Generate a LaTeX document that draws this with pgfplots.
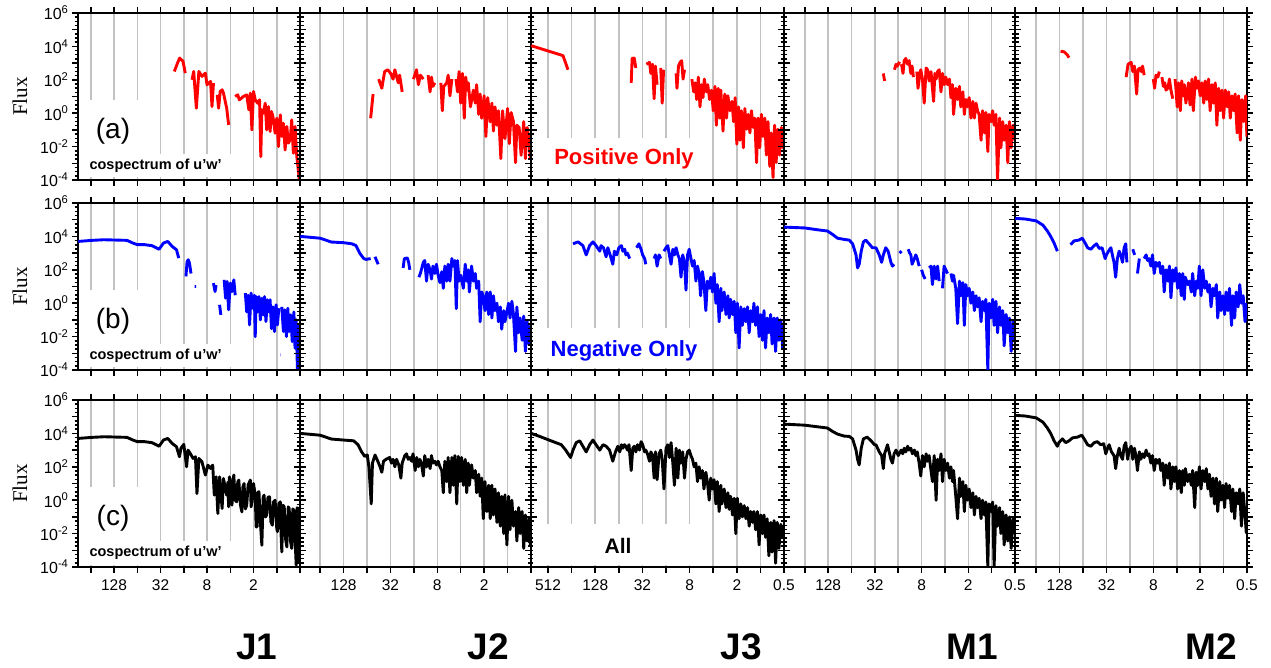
\documentclass[border=0pt]{standalone}
\usepackage{fontspec}
\setmainfont{Liberation Sans}
\newfontfamily\seriffont{Liberation Serif}
\usepackage{pgfplots}
\pgfplotsset{compat=1.18}

\pgfplotsset{
  cospanel/.style={
    scale only axis, height=167pt, anchor=north west,
    x dir=reverse, xmin=0.5,
    ymin=1e-4, ymax=1e6,
    xtick={0.5,1,2,4,8,16,32,64,128,256},
    ytick={1e-4,1e-3,0.01,0.1,1,10,100,1000,1e4,1e5,1e6},
    minor ytick={1.78e-4,3.16e-4,5.62e-4,1.78e-3,3.16e-3,5.62e-3,0.0178,0.0316,0.0562,0.178,0.316,0.562,1.78,3.16,5.62,17.8,31.6,56.2,178,316,562,1780,3160,5620,17800,31600,56200,178000,316000,562000},
    xticklabels={}, yticklabels={},
    xtick pos=both, ytick pos=both, tick align=outside,
    major tick length=6pt, minor tick length=3.5pt,
    every tick/.style={black, line width=1.5pt},
    xmajorgrids, grid style={black!24, line width=1.5pt},
    axis line style={line width=2.3pt},
    tick label style={font=\fontsize{16}{18}\selectfont},
    xticklabel style={font=\fontsize{15.5}{18}\selectfont, yshift=-3pt},
    unbounded coords=jump,
    every axis plot/.append style={line width=2.9pt, line join=round},
  },
  cosylab/.style={yticklabels={10\textsuperscript{-4},,10\textsuperscript{-2},,10\textsuperscript{0},,10\textsuperscript{2},,10\textsuperscript{4},,10\textsuperscript{6}}},
}

\begin{document}
\begin{tikzpicture}
\useasboundingbox (0pt,0pt) rectangle (1271pt,667pt);

% ---------------- row (a): positive only ----------------
\begin{loglogaxis}[cospanel, cosylab, at={(78pt,654pt)}, width=222pt, xmax=375]
\addplot[red] coordinates {
(21.2,316)(19.3,1000)(18.1,2000)(16.4,1300)(15.3,250)(15.2,nan)
(12.5,100)(11.9,316)(11.0,2)(10.2,316)(9.3,160)(8.4,250)(8.0,50)(7.2,80)(6.9,2.5)(6.6,63)(6.5,nan)
(5.9,12.6)(5.66,2)(5.4,20)(5.1,25)(4.9,16)(4.45,2)(4.2,0.2)(4.1,nan)
(3.45,10)(3.2,12.6)(3.05,6.3)(2.7,10)(2.45,12.6)(2.3,1.6)(2.2,16)(2.1,0.1)(2.0,20)(1.9,6.3)(1.77,4)(1.67,6.3)(1.61,2.5e-3)(1.56,1.6)(1.49,1)(1.41,4)(1.35,0.1)(1.28,2.5)(1.22,0.08)(1.17,1.26)(1.12,0.63)(1.05,0.063)(1.0,0.5)(0.95,0.01)(0.9,0.8)(0.86,0.04)(0.82,0.25)(0.78,6.3e-3)(0.74,0.16)(0.71,0.016)(0.67,0.025)(0.64,0.4)(0.61,4e-3)(0.58,0.16)(0.55,2.5e-3)(0.52,2.5e-4)(0.51,1e-4)
};
\end{loglogaxis}

\begin{loglogaxis}[cospanel, at={(300pt,654pt)}, width=231pt, xmax=465]
\addplot[red] coordinates {
(57.5,0.5)(53.5,14)(53,nan)
(45.3,110)(41.3,31)(38,310)(34.7,400)(31.8,240)(29.6,110)(28.1,400)(25.4,66)(24.4,190)(22.6,19)(22,nan)
(16.2,110)(14.8,400)(14.0,51)(13.2,190)(12.1,110)(11.5,nan)
(10.5,190)(9.9,19)(9.5,145)(9.1,40)(8.6,66)(8.2,nan)
(7.2,66)(6.9,1.4)(6.6,40)(6.05,66)(5.8,190)(5.5,11)(5.2,110)(5.0,nan)
(4.6,110)(4.4,19)(4.2,310)(4.0,4)(3.8,240)(3.6,0.5)(3.45,145)(3.3,24)(3.2,66)(3.0,2.4)(2.75,24)(2.6,4)(2.5,51)(2.35,0.85)(2.25,14)(2.15,0.5)(2.0,11)(1.9,0.04)(1.8,8.5)(1.67,0.3)(1.59,4)(1.52,0.085)(1.45,2.4)(1.37,0.19)(1.31,1.4)(1.22,1.9e-3)(1.16,1.4)(1.08,0.03)(1.0,1.9)(0.95,0.015)(0.9,1.1)(0.84,0.31)(0.79,1.1e-3)(0.76,0.19)(0.71,0.14)(0.67,3e-3)(0.62,0.31)(0.59,1.9e-3)(0.56,0.14)(0.53,0.024)(0.51,1.9e-3)
};
\end{loglogaxis}

\begin{loglogaxis}[cospanel, at={(531pt,654pt)}, width=253pt, xmax=845, xtick={0.5,1,2,4,8,16,32,64,128,256,512}]
\addplot[red] coordinates {
(840,1.1e4)(330,2800)(285,400)(280,nan)
(44.5,66)(43.3,1900)(40.7,2000)(38.9,510)(37,nan)
(28.5,850)(26,1100)(25,240)(23.8,850)(22.7,7.4)(21.8,660)(20.8,51)(20,nan)
(18.7,510)(17.9,4)(17.2,400)(16,nan)
(11.9,240)(11.6,31)(11.1,660)(10.6,1100)(10.1,1400)(9.7,110)(9.3,400)(9,nan)
(7.5,110)(7.1,19)(6.8,66)(6.5,6.6)(6.2,145)(5.9,2.4)(5.65,51)(5.4,8.5)(5.2,110)(4.9,19)(4.7,51)(4.45,6.6)(4.2,24)(4.0,1.4)(3.8,40)(3.65,0.19)(3.45,31)(3.3,0.51)(3.2,24)(3.0,0.085)(2.85,14)(2.7,0.51)(2.6,11)(2.45,1.4)(2.3,5.1)(2.2,0.31)(2.1,8.5)(2.0,0.014)(1.9,2.4)(1.83,0.024)(1.75,1.4)(1.65,8.5e-3)(1.58,1.9)(1.5,0.11)(1.43,0.85)(1.36,0.066)(1.3,1.4)(1.24,0.14)(1.18,0.51)(1.12,1.1e-3)(1.07,0.51)(1.02,8.5e-3)(0.97,0.85)(0.93,0.04)(0.88,0.51)(0.84,3.1e-3)(0.8,0.31)(0.76,6.6e-4)(0.73,0.066)(0.69,1.4e-4)(0.66,0.19)(0.63,1.1e-3)(0.6,0.11)(0.57,3.1e-3)(0.54,0.14)(0.515,8.5e-3)(0.502,0.11)
};
\end{loglogaxis}

\begin{loglogaxis}[cospanel, at={(784pt,654pt)}, width=231pt, xmax=475]
\addplot[red] coordinates {
(24.9,240)(24.0,85)(23,nan)
(17.9,400)(17.1,850)(16.4,660)(15.4,1200)(15,nan)
(14.5,850)(13.9,240)(13.4,1400)(12.8,1900)(12.1,850)(11.6,1400)(11.0,240)(10.6,660)(10.2,145)(9.8,nan)
(9.2,310)(8.9,31)(8.4,240)(8.2,400)(7.8,110)(7.4,4)(7.0,510)(6.7,400)(6.4,85)(6.05,310)(5.8,31)(5.6,5.1)(5.4,240)(5.2,110)(4.97,310)(4.75,400)(4.5,19)(4.3,240)(4.1,51)(3.9,145)(3.7,51)(3.5,110)(3.35,8.5)(3.2,51)(3.1,0.85)(2.9,31)(2.75,6.6)(2.6,40)(2.5,2.4)(2.35,19)(2.25,0.85)(2.15,6.6)(2.05,2.4)(1.95,8.5)(1.85,0.51)(1.75,5.1)(1.67,0.51)(1.59,4)(1.52,1.4)(1.45,0.85)(1.37,0.024)(1.31,1.4)(1.24,0.066)(1.19,1.1)(1.12,5.1e-3)(1.08,0.85)(1.02,0.31)(0.97,1.4)(0.93,0.19)(0.88,0.85)(0.84,1e-4)(0.79,0.51)(0.76,8.5e-3)(0.72,0.31)(0.69,0.024)(0.65,0.19)(0.62,1.1e-3)(0.59,0.31)(0.56,8.5e-3)(0.53,0.19)(0.51,0.024)
};
\end{loglogaxis}

\begin{loglogaxis}[cospanel, at={(1015pt,654pt)}, width=232pt, xmax=480]
\addplot[red] coordinates {
(124.5,5100)(112,4700)(102,3100)(97,2100)(95,nan)
(17.9,145)(16.9,850)(15.4,1100)(14.7,310)(14.0,660)(13.1,14)(12.6,400)(11.9,510)(11.4,310)(11.0,660)(10.5,190)(10,nan)
(8.0,110)(7.7,31)(7.4,190)(7.0,145)(6.7,310)(6.5,nan)
(6.2,145)(5.95,40)(5.7,66)(5.5,24)(5.2,31)(4.97,110)(4.75,24)(4.5,7.4)(4.4,nan)
(4.2,110)(4.1,31)(3.95,2.4)(3.8,66)(3.6,1.4)(3.45,85)(3.3,11)(3.2,51)(3.05,4)(2.83,66)(2.7,3.1)(2.55,110)(2.45,1.4)(2.3,145)(2.2,31)(2.1,85)(2.0,11)(1.9,66)(1.8,4)(1.73,85)(1.64,6.6)(1.56,110)(1.49,1.4)(1.41,51)(1.35,4)(1.28,66)(1.22,0.19)(1.16,31)(1.11,1.4)(1.05,24)(1.0,0.51)(0.95,24)(0.9,2.4)(0.86,19)(0.82,0.51)(0.78,11)(0.74,1.4)(0.71,14)(0.67,0.066)(0.64,11)(0.61,0.024)(0.58,6.6)(0.55,0.31)(0.52,11)(0.502,0.04)
};
\end{loglogaxis}

% ---------------- row (b): negative only ----------------
\begin{loglogaxis}[cospanel, cosylab, at={(78pt,464pt)}, width=222pt, xmax=375]
\addplot[blue] coordinates {
(372,5000)(245,5800)(173,6300)(87,5800)(73,4000)(64,3200)(51.5,3200)(41.5,2800)(33.4,1700)(29.3,4000)(25.8,5000)(22.6,2500)(19.9,1600)(18.6,500)(18.5,nan)
(15.0,40)(14.5,300)(14.0,400)(13.5,250)(12.9,60)(12.8,nan)
(11.6,10)(11.1,10)(11,nan)
(6.6,16)(6.3,5)(6.1,12)(6.0,nan)
(5.5,0.8)(5.3,0.2)(5.2,nan)
(4.8,25)(4.6,2)(4.4,20)(4.2,0.4)(4.0,16)(3.8,5)(3.6,25)(3.45,3)(3.3,nan)
(2.55,4)(2.45,0.3)(2.35,3)(2.25,0.05)(2.15,4)(2.05,0.5)(1.95,3)(1.9,0.01)(1.85,2.5)(1.77,0.3)(1.7,2.5)(1.63,0.1)(1.56,2)(1.5,0.2)(1.44,2.5)(1.38,0.08)(1.32,1.6)(1.26,0.3)(1.22,1.6)(1.17,0.03)(1.12,0.6)(1.07,0.02)(1.02,0.8)(0.98,0.05)(0.94,0.5)(0.92,nan)(0.9,8e-4)(0.89,8e-4)(0.88,nan)(0.86,0.6)(0.82,0.02)(0.79,0.4)(0.75,0.01)(0.72,0.5)(0.69,0.02)(0.66,0.2)(0.63,0.005)(0.6,0.3)(0.58,0.002)(0.56,0.1)(0.54,1e-4)(0.52,0.05)(0.505,1e-4)
};
\end{loglogaxis}

\begin{loglogaxis}[cospanel, at={(300pt,464pt)}, width=231pt, xmax=465]
\addplot[blue] coordinates {
(462,1e4)(256,7800)(184,4600)(128,4200)(100,3600)(88.5,2800)(79.5,1000)(70.5,470)(65.5,420)(57.5,470)(55,nan)
(50.5,600)(46,215)(45,nan)
(22,130)(21.2,470)(19.4,510)(18.7,280)(18,100)(17,nan)
(13.8,36)(13.2,60)(12.1,280)(11.6,360)(11,21)(10.5,215)(9.9,100)(9.5,28)(9.1,166)(8.6,60)(8.2,215)(7.8,47)(7.4,17)(7.0,78)(6.7,7.8)(6.4,166)(6.05,21)(5.8,215)(5.5,21)(5.2,470)(4.97,166)(4.75,360)(4.56,0.47)(4.4,360)(4.2,21)(4.0,47)(3.7,7.8)(3.5,215)(3.35,21)(3.2,100)(3.1,4.7)(2.9,166)(2.75,21)(2.6,60)(2.5,7.8)(2.35,21)(2.25,0.078)(2.15,4.7)(2.05,2.8)(1.95,0.36)(1.85,4.7)(1.75,0.21)(1.67,4.7)(1.59,0.13)(1.52,2.8)(1.45,0.36)(1.37,1)(1.31,0.078)(1.24,0.6)(1.19,0.028)(1.12,0.36)(1.08,0.078)(0.97,1)(0.93,0.13)(0.88,1.3)(0.84,0.21)(0.79,1.3e-3)(0.76,0.6)(0.72,0.017)(0.69,0.13)(0.65,6e-3)(0.62,0.17)(0.59,1.3e-3)(0.56,0.078)(0.53,3.6e-3)(0.51,0.047)
};
\end{loglogaxis}

\begin{loglogaxis}[cospanel, at={(531pt,464pt)}, width=253pt, xmax=845, xtick={0.5,1,2,4,8,16,32,64,128,256,512}]
\addplot[blue] coordinates {
(246,3600)(212,4700)(184,2800)(167,780)(151,2800)(137,4700)(125,2800)(112,1300)(108,2800)(100.5,2100)(93,600)(88.5,2100)(82.6,780)(76.5,215)(72.9,1300)(68,780)(64,2100)(59.3,2800)(56.8,1300)(53.8,1700)(52,780)(49.7,1000)(46.5,470)(44,nan)
(38,2100)(35.5,3600)(33.3,1700)(31.8,780)(30,470)(29,215)(27,nan)
(22.7,470)(21.8,780)(20.8,166)(19.6,780)(18.7,470)(18,nan)
(17,1300)(16,2100)(15.2,2800)(14.5,780)(13.8,215)(13.1,1700)(12.5,780)(11.9,2100)(11.3,780)(10.8,470)(10.3,36)(9.8,780)(9.3,280)(8.9,6)(8.5,780)(8.1,1700)(7.7,470)(7.35,166)(7.0,360)(6.65,21)(6.35,166)(6.05,60)(5.8,2.8)(5.5,78)(5.25,17)(4.97,0.36)(4.75,21)(4.5,7.8)(4.3,36)(4.1,4.7)(3.9,60)(3.7,1)(3.55,13)(3.36,0.078)(3.2,7.8)(3.1,0.36)(2.9,4.7)(2.75,0.21)(2.6,2.8)(2.5,0.13)(2.4,1.7)(2.27,0.21)(2.16,1.3)(2.06,0.017)(1.97,1)(1.87,2.1e-3)(1.78,0.6)(1.7,0.047)(1.61,0.47)(1.53,0.078)(1.46,0.6)(1.39,0.017)(1.33,0.36)(1.26,0.078)(1.21,1)(1.15,0.047)(1.09,0.6)(1.04,0.01)(0.99,0.21)(0.94,6e-3)(0.9,0.36)(0.86,2.1e-3)(0.82,0.13)(0.78,0.017)(0.74,0.21)(0.71,3.6e-3)(0.67,0.13)(0.64,1.3e-3)(0.61,0.13)(0.58,6e-3)(0.55,0.1)(0.52,2.1e-3)(0.502,0.047)
};
\end{loglogaxis}

\begin{loglogaxis}[cospanel, at={(784pt,464pt)}, width=231pt, xmax=475]
\addplot[blue] coordinates {
(472,3.6e4)(256,3.2e4)(177,2.5e4)(131,2.1e4)(112,1.3e4)(97,7800)(79.5,6600)(68.5,6000)(62,3600)(56,780)(53.5,130)(51,215)(48,1300)(45,4700)(42,6000)(38,3600)(34.5,2100)(31,2100)(28.1,780)(26.2,280)(24.9,780)(23.2,2100)(21.6,1300)(19.9,280)(19,166)(18.1,215)(17,nan)
(15.4,1000)(14.5,1300)(14,nan)
(11.9,1700)(11.4,1000)(11,780)(10.6,215)(9.9,470)(9.5,780)(9.1,470)(8.6,166)(8.3,nan)
(8.0,100)(7.6,47)(7.2,28)(6.9,nan)
(6.4,130)(6.05,166)(5.8,13)(5.5,166)(5.2,28)(4.97,166)(4.75,21)(4.6,nan)
(4.3,7.8)(4.1,166)(3.9,100)(3.7,60)(3.55,nan)
(3.35,60)(3.2,21)(3.1,47)(2.9,7.8)(2.75,0.06)(2.6,21)(2.5,2.8)(2.35,17)(2.25,0.047)(2.15,13)(2.05,2.8)(1.95,7.8)(1.85,1)(1.75,4.7)(1.67,0.36)(1.59,2.8)(1.52,0.6)(1.45,2.1)(1.37,0.078)(1.31,1.3)(1.24,0.36)(1.19,1.7)(1.12,1e-4)(1.08,1)(1.02,0.13)(0.97,1.7)(0.93,0.047)(0.88,1.3)(0.84,0.017)(0.79,0.6)(0.76,0.047)(0.72,0.36)(0.69,2.8e-3)(0.65,0.21)(0.62,0.017)(0.59,0.13)(0.56,1.3e-3)(0.53,0.078)(0.51,6e-3)
};
\end{loglogaxis}

\begin{loglogaxis}[cospanel, at={(1015pt,464pt)}, width=232pt, xmax=480]
\addplot[blue] coordinates {
(477,1.2e5)(355,1.1e5)(256,8.5e4)(210,4.7e4)(184,2.1e4)(167,1e4)(151,4000)(137,1300)(130,nan)
(92.5,3200)(83.5,5400)(72.5,6000)(65.5,7800)(59.5,3600)(56,2100)(51,1700)(46,2800)(43,3600)(39.7,1900)(36.5,2100)(33.3,470)(32,780)(30.2,1300)(28.1,2100)(26.9,780)(25.6,280)(24.4,36)(23.2,470)(22,1300)(21,780)(19.9,280)(19,2100)(18.1,3600)(17.5,280)(16,nan)
(14.7,1700)(13.9,780)(13.3,nan)
(12.8,60)(12.1,470)(11.5,nan)
(10.5,470)(9.9,780)(9.5,360)(9.1,470)(8.6,166)(8.2,780)(7.8,60)(7.4,280)(7.0,166)(6.7,280)(6.4,60)(6.05,166)(5.8,4.7)(5.5,100)(5.2,21)(4.97,166)(4.75,2.1)(4.5,100)(4.3,21)(4.1,130)(3.9,7.8)(3.7,60)(3.5,2.8)(3.35,60)(3.2,1.7)(3.1,36)(2.9,13)(2.75,21)(2.6,4.7)(2.5,60)(2.35,2.8)(2.25,21)(2.15,7.8)(2.05,166)(1.95,2.8)(1.85,100)(1.75,7.8)(1.67,21)(1.59,4.7)(1.52,13)(1.45,0.6)(1.37,7.8)(1.31,2.8)(1.24,13)(1.19,0.13)(1.12,4.7)(1.08,0.36)(1.02,2.8)(0.97,0.21)(0.93,4.7)(0.88,0.36)(0.84,7.8)(0.79,0.047)(0.76,2.8)(0.72,0.13)(0.69,4.7)(0.65,0.6)(0.62,13)(0.59,1)(0.56,2.8)(0.53,0.078)(0.51,1)
};
\end{loglogaxis}

% ---------------- row (c): all ----------------
\begin{loglogaxis}[cospanel, cosylab, at={(78pt,267pt)}, width=222pt, xmax=375,
  xticklabels={,,2,,8,,32,,128,}]
\addplot[black] coordinates {
(372,5000)(245,5800)(173,6300)(87,5800)(73,4000)(64,3200)(51.5,3200)(41.5,2800)(33.4,1700)(29.3,4000)(25.8,5000)(22.6,2500)(19.9,1600)(18.2,400)(17.4,1300)(16,2200)(14.7,100)(14.1,1000)(13.2,630)(12.1,316)(11.3,400)(10.8,2.5)(10.2,316)(9.3,200)(8.4,32)(7.8,126)(7.2,80)(6.75,126)(6.44,2)(6.1,25)(5.8,0.16)(5.5,25)(5.1,0.32)(4.9,20)(4.45,2)(4.3,12)(4.2,0.4)(4.1,25)(3.95,3)(3.8,0.5)(3.7,16)(3.6,32)(3.45,1)(3.3,0.8)(3.2,12)(3.1,16)(2.95,0.5)(2.83,0.2)(2.75,6)(2.65,10)(2.55,0.3)(2.45,0.5)(2.35,8)(2.2,16)(2.15,0.4)(2.1,0.8)(2.0,10)(1.9,2)(1.85,0.025)(1.8,0.025)(1.75,3)(1.7,3.2)(1.63,0.05)(1.56,0.002)(1.5,1.5)(1.46,2)(1.4,0.1)(1.35,0.13)(1.3,1.5)(1.24,1.6)(1.19,0.05)(1.14,0.032)(1.1,0.8)(1.05,1)(1.0,0.02)(0.98,0.013)(0.94,0.6)(0.9,0.8)(0.88,0.01)(0.86,8e-4)(0.83,0.5)(0.8,0.4)(0.77,0.005)(0.74,1.6e-3)(0.71,0.4)(0.69,0.32)(0.66,0.003)(0.64,1.3e-3)(0.62,0.3)(0.6,0.25)(0.58,0.005)(0.56,1.3e-4)(0.545,0.35)(0.53,0.32)(0.52,0.001)(0.51,2e-4)(0.505,0.2)(0.502,0.01)
};
\end{loglogaxis}

\begin{loglogaxis}[cospanel, at={(300pt,267pt)}, width=231pt, xmax=465,
  xticklabels={,,2,,8,,32,,128,}]
\addplot[black] coordinates {
(462,1e4)(256,7800)(184,4600)(128,4000)(95,3600)(83.5,2100)(75,780)(68.5,420)(63.5,510)(60.5,100)(56.5,0.6)(54.5,166)(50.5,510)(46.5,215)(43.5,100)(41.3,47)(39.3,215)(36.5,280)(32.7,360)(31,166)(29.6,280)(28.1,100)(26.7,280)(25,130)(23.5,21)(22.6,166)(20.9,470)(19.9,600)(18.9,280)(18,360)(17.1,215)(16.4,600)(15.4,60)(14.7,360)(14,100)(13.4,280)(12.8,166)(12.1,28)(11.6,470)(11,100)(10.5,280)(9.9,78)(9.5,470)(9.1,166)(8.6,215)(8.2,130)(7.8,215)(7.4,100)(7.0,60)(6.7,2.8)(6.4,215)(6.05,13)(5.8,360)(5.5,2.8)(5.2,360)(4.97,7.8)(4.75,470)(4.5,0.6)(4.3,420)(4.1,13)(3.9,360)(3.7,7.8)(3.5,280)(3.35,2.8)(3.2,166)(3.1,7.8)(2.9,130)(2.75,21)(2.6,60)(2.5,2.8)(2.35,36)(2.25,1.7)(2.15,21)(2.05,0.078)(1.95,13)(1.85,0.21)(1.75,7.8)(1.67,0.078)(1.59,7.8)(1.52,0.13)(1.45,4.7)(1.37,0.047)(1.31,2.8)(1.24,0.028)(1.19,1.7)(1.12,0.01)(1.08,2.1)(1.02,2.1e-3)(0.97,1.7)(0.93,0.017)(0.88,1)(0.84,0.028)(0.79,0.21)(0.76,3.6e-3)(0.72,0.36)(0.69,0.01)(0.65,0.21)(0.62,1.3e-3)(0.59,0.13)(0.56,3.6e-3)(0.53,0.078)(0.51,2.1e-3)
};
\end{loglogaxis}

\begin{loglogaxis}[cospanel, at={(531pt,267pt)}, width=253pt, xmax=845, xtick={0.5,1,2,4,8,16,32,64,128,256,512},
  xticklabels={0.5,,2,,8,,32,,128,,512}]
\addplot[black] coordinates {
(840,1e4)(655,6600)(470,3600)(347,2100)(305,1000)(264,360)(246,1000)(224,2800)(202,3600)(184,1700)(167,780)(151,2100)(137,4000)(125,2100)(112,1000)(102,2100)(93,1700)(84,1000)(76.5,215)(70.7,780)(66,1700)(62.3,780)(59.3,2100)(56.8,1300)(54.3,2100)(52,1700)(49.7,1000)(47.5,2100)(44.5,60)(42.5,1300)(40.7,1700)(38.9,780)(37,2100)(34.9,1000)(33.3,3200)(31.8,2100)(30,780)(29,1000)(27.6,600)(26,215)(25,780)(23.8,470)(22.7,21)(21.8,780)(20.8,17)(19.6,600)(18.7,1000)(17.9,280)(17,4.7)(16,1300)(15.2,2100)(14.5,360)(13.8,2800)(13.1,166)(12.5,7.8)(11.9,1300)(11.3,21)(10.8,1000)(10.3,166)(9.8,780)(9.3,21)(8.9,280)(8.5,780)(8.1,1000)(7.7,470)(7.35,280)(7.0,100)(6.65,166)(6.35,13)(6.05,100)(5.8,21)(5.5,60)(5.25,4.7)(4.97,47)(4.75,13)(4.5,1)(4.3,21)(4.1,4.7)(3.9,17)(3.7,0.6)(3.55,13)(3.36,0.21)(3.2,7.8)(3.1,0.6)(2.9,4.7)(2.75,0.36)(2.6,2.8)(2.5,0.28)(2.4,1.7)(2.27,0.13)(2.16,1.3)(2.06,0.01)(1.97,1.3)(1.87,0.078)(1.78,0.6)(1.7,0.1)(1.61,0.47)(1.53,0.078)(1.46,0.36)(1.39,0.028)(1.33,0.21)(1.26,0.047)(1.21,0.21)(1.15,0.017)(1.09,0.21)(1.04,2.1e-3)(0.99,0.13)(0.94,0.01)(0.9,0.13)(0.86,6e-3)(0.82,0.078)(0.78,4.7e-4)(0.74,0.047)(0.71,7.8e-4)(0.67,0.06)(0.64,1.7e-4)(0.61,0.047)(0.58,1.3e-3)(0.55,0.036)(0.52,6e-3)(0.502,0.028)
};
\end{loglogaxis}

\begin{loglogaxis}[cospanel, at={(784pt,267pt)}, width=231pt, xmax=475,
  xticklabels={0.5,,2,,8,,32,,128,}]
\addplot[black] coordinates {
(472,3.6e4)(256,3.1e4)(177,2.5e4)(131,2.1e4)(112,1.3e4)(97,9100)(79.5,6900)(68.5,6600)(62,4700)(56,1000)(53.5,280)(51,130)(48,1300)(45,4700)(40.2,6000)(35.8,3600)(32.4,2100)(31,2100)(28.1,780)(26.2,470)(24.9,78)(24,600)(22,2100)(19.9,280)(19,166)(18.1,600)(17.1,1000)(16,470)(14.7,1000)(14,600)(13.4,1300)(12.8,780)(12.1,1700)(11.6,1000)(11,1300)(10.5,600)(9.9,1000)(9.5,470)(9.1,780)(8.6,166)(8.2,28)(7.8,470)(7.4,100)(7.0,600)(6.7,215)(6.4,470)(6.05,60)(5.8,13)(5.5,470)(5.2,1)(4.97,280)(4.75,60)(4.5,600)(4.3,13)(4.1,280)(3.9,60)(3.7,166)(3.5,21)(3.35,100)(3.2,13)(3.1,60)(2.9,1.7)(2.75,0.078)(2.6,21)(2.5,1.7)(2.35,13)(2.25,0.21)(2.15,7.8)(2.05,1)(1.95,4.7)(1.85,0.36)(1.75,2.8)(1.67,0.13)(1.59,1.7)(1.52,0.36)(1.45,1.3)(1.37,0.078)(1.31,1)(1.24,0.13)(1.19,0.78)(1.12,1e-4)(1.08,0.6)(1.02,0.21)(0.97,0.78)(0.93,1e-4)(0.88,0.47)(0.84,0.028)(0.79,0.36)(0.76,0.01)(0.72,0.21)(0.69,2.1e-3)(0.65,0.13)(0.62,3.6e-3)(0.59,0.1)(0.56,1.3e-3)(0.53,0.078)(0.51,0.01)
};
\end{loglogaxis}

\begin{loglogaxis}[cospanel, at={(1015pt,267pt)}, width=232pt, xmax=480,
  xticklabels={0.5,,2,,8,,32,,128,}]
\addplot[black] coordinates {
(477,1.2e5)(355,1.1e5)(256,8.5e4)(210,4.7e4)(184,2.1e4)(167,1e4)(151,3600)(137,1700)(131,2800)(118,4700)(107,2800)(97,3600)(87.5,5400)(75.5,6000)(66.5,7800)(62,4700)(56,2100)(51,1700)(46,2800)(42,3200)(38,2100)(34.7,2400)(32.7,600)(31,1300)(29.6,2100)(27.6,780)(25.6,470)(24.4,78)(23.2,470)(22,1300)(21,470)(19.9,280)(19,1700)(18.1,2800)(17.1,280)(16.4,1000)(15.4,1700)(14.7,280)(14,1300)(13.4,470)(12.8,60)(12.1,780)(11.6,280)(11,600)(10.5,360)(9.9,1000)(9.5,470)(9.1,600)(8.6,166)(8.2,470)(7.8,60)(7.4,280)(7.0,166)(6.7,280)(6.4,60)(6.05,166)(5.8,7.8)(5.5,130)(5.2,21)(4.97,166)(4.75,4.7)(4.5,100)(4.3,13)(4.1,100)(3.9,4.7)(3.7,60)(3.5,2.8)(3.35,60)(3.2,7.8)(3.1,78)(2.9,13)(2.75,36)(2.6,7.8)(2.5,60)(2.35,0.36)(2.25,47)(2.15,7.8)(2.05,100)(1.95,4.7)(1.85,60)(1.75,13)(1.67,78)(1.59,4.7)(1.52,36)(1.45,1.7)(1.37,21)(1.31,0.6)(1.24,21)(1.19,0.21)(1.12,13)(1.08,1)(1.02,7.8)(0.97,0.36)(0.93,10)(0.88,1.3)(0.84,7.8)(0.79,0.21)(0.76,4.7)(0.72,0.078)(0.69,2.8)(0.65,0.6)(0.62,4.7)(0.59,0.028)(0.56,2.8)(0.53,0.13)(0.51,0.01)
};
\end{loglogaxis}

% ---------------- labels and white boxes ----------------
\foreach \t/\lab in {13/a,203/b,400/c}{
  \fill[white] (80pt,{(667-\t-87)*1pt}) rectangle (150pt,{(667-\t-141)*1pt});
  \fill[white] (80pt,{(667-\t-141)*1pt}) rectangle (238pt,{(667-\t-164.5)*1pt});
  \node[font=\fontsize{28}{28}\selectfont] at (113pt,{(667-\t-118)*1pt}) {(\lab)};
  \node[anchor=west, font=\bfseries\fontsize{14.5}{14.5}\selectfont] at (86pt,{(667-\t-152.5)*1pt}) {cospectrum of u’w’};
  \node[rotate=90, font=\seriffont\fontsize{21}{21}\selectfont] at (20pt,{(667-\t-83.5)*1pt}) {Flux};
}
\fill[white] (533pt,529pt) rectangle (700pt,489pt);
\node[text=red, font=\bfseries\fontsize{22}{22}\selectfont] at (624pt,508pt) {Positive Only};
\fill[white] (533pt,339pt) rectangle (700pt,299pt);
\node[text=blue, font=\bfseries\fontsize{22}{22}\selectfont] at (624pt,316pt) {Negative Only};
\fill[white] (533pt,143pt) rectangle (700pt,102.5pt);
\node[font=\bfseries\fontsize{21}{21}\selectfont] at (618pt,121pt) {All};

\foreach \x/\n in {257/J1,488/J2,741/J3,972/M1,1211/M2}{
  \node[font=\bfseries\fontsize{37}{37}\selectfont] at (\x pt,20pt) {\n};
}
\end{tikzpicture}
\end{document}
